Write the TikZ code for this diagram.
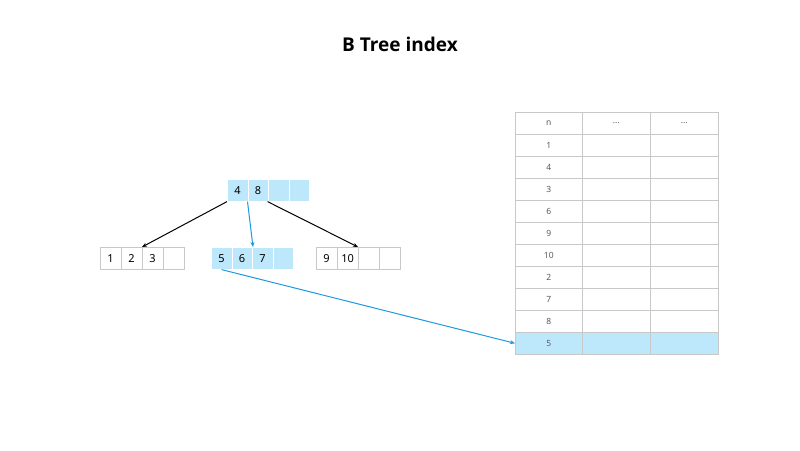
\documentclass[tikz,border=0pt]{standalone}
\usepackage{fontspec}
\setmainfont{Noto Sans}
\newfontfamily\tf{Open Sans}
\usetikzlibrary{arrows.meta}
\definecolor{hl}{HTML}{BDE8FB}
\definecolor{ar}{HTML}{1A9AE0}
\definecolor{gr}{HTML}{C8C8C8}
\begin{document}
\begin{tikzpicture}[x=1pt,y=-1pt,
 cell/.style={draw=gr,line width=0.6pt,minimum width=20.5pt,minimum height=22pt,inner sep=0pt,font=\fontsize{11}{11}\selectfont,anchor=north west},
 hcell/.style={cell,fill=hl,draw=white},
 tc/.style={draw=gr,line width=0.6pt,minimum height=22pt,inner sep=0pt,anchor=north west,font=\fontsize{8.5}{8.5}\selectfont\color{black!65}},
 blk/.style={-{Stealth[length=5pt,width=4pt]},line width=1pt},
 blu/.style={-{Stealth[length=5pt,width=4pt]},line width=1pt,draw=ar}]
\useasboundingbox (0,0) rectangle (800,450);
\node[font=\tf\fontsize{19}{19}\selectfont\bfseries] (title) at (400,44) {B Tree index};
% root
\foreach \t [count=\i from 0] in {4,8,{},{}} \node[hcell] (r\i) at ({227+20.5*\i},179) {\t};
% leaves
\foreach \t [count=\i from 0] in {1,2,3,{}} \node[cell] (a\i) at ({100+21*\i},247) {\t};
\foreach \t [count=\i from 0] in {5,6,7,{}} \node[hcell] (b\i) at ({211+20.5*\i},247) {\t};
\foreach \t [count=\i from 0] in {9,10,{},{}} \node[cell] (c\i) at ({316+21*\i},247) {\t};
% table
\foreach \t [count=\j from 0] in {n,1,4,3,6,9,10,2,7,8,5}{
  \ifnum\j=10 \def\f{hl}\else\def\f{white}\fi
  \node[tc,fill=\f,minimum width=67pt] (t\j a) at (515,{112+22*\j}) {\t};
  \node[tc,fill=\f,minimum width=68pt] (t\j b) at (582,{112+22*\j}) {\ifnum\j=0 ...\fi};
  \node[tc,fill=\f,minimum width=68pt] (t\j c) at (650,{112+22*\j}) {\ifnum\j=0 ...\fi};
}
\draw[blk] (r0.south west) -- (a2.north west);
\draw[blu] (r1.south west) -- ([xshift=1pt]b2.north west);
\draw[blk] ([xshift=-1pt]r1.south east) -- (c2.north west);
\draw[blu] (b0.south) -- (t10a.west);
\end{tikzpicture}
\end{document}
